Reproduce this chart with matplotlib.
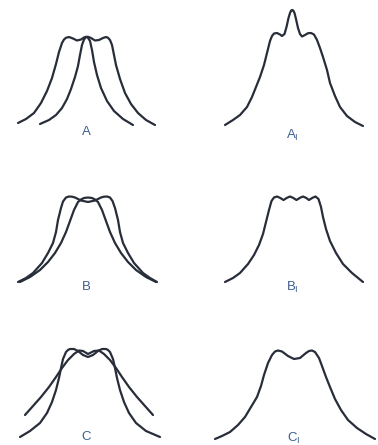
#!/usr/bin/env python3
import matplotlib
matplotlib.use("Agg")
import matplotlib.pyplot as plt

# Traced curves, in picture pixels (x right, y down)
a_left_x = [18, 26, 34, 41, 47, 52, 56, 59, 62, 64, 66, 69, 73, 77, 81, 84, 86, 88, 90, 92, 94, 97, 101, 107, 114, 123, 133]
a_left_y = [123, 119, 113, 103, 91, 78, 64, 52, 43, 39.5, 37.8, 37, 38.5, 40.5, 39.5, 37.5, 36.8, 37.8, 41, 50, 62, 75, 88, 101, 111, 119, 125]
a_right_x = [40, 49, 56, 62, 67, 71, 75, 78, 80, 82, 84, 86, 88, 91, 95, 99, 103, 106, 108, 110, 112, 114, 116, 120, 125, 131, 138, 146, 155]
a_right_y = [124, 120, 115, 108, 99, 89, 77, 66, 55, 45, 39.5, 37, 36.8, 38, 40.5, 40, 38, 37, 37.8, 40, 45, 55, 65, 79, 93, 104, 113, 120, 125]

a1_x = [225, 233, 240, 247, 252, 256, 260, 264, 267, 270, 272, 274, 277, 280, 282, 284.5, 286.5, 288.5, 290, 291.2, 292.2, 293.2, 294.5, 296, 298, 300, 302, 305, 308, 311, 314, 317, 320, 323, 327, 330, 335, 340, 347, 355, 363]
a1_y = [125, 120, 115, 107, 97, 87, 77, 65, 53, 41, 36, 33.5, 33, 34.5, 36, 34, 27, 18, 13, 10.5, 10, 10.5, 13, 19, 28, 34, 36.5, 35, 33.2, 33, 34.5, 40, 48, 57, 70, 83, 96, 107, 116, 122, 126]

b_two_x = [18, 26, 33, 42, 48, 53, 56, 58, 61, 63, 66, 69, 72, 75, 81, 88, 95, 101, 104, 107, 110, 112.5, 115, 118, 120, 123, 128, 134, 143, 150, 157]
b_two_y = [282, 278, 273, 263, 253, 243, 232, 220, 208, 201.5, 197.5, 196.5, 196.7, 197.5, 200.5, 202, 200.5, 197.5, 196.7, 196.5, 197.5, 201, 208, 220, 232, 243, 253, 263, 273, 278, 282]
b_one_x = [20, 30, 40, 48, 55, 61, 66, 70, 74, 78, 81, 84, 88, 92, 95, 98, 102, 106, 110, 115, 121, 128, 136, 146, 156]
b_one_y = [282, 277, 270, 262, 253, 243, 232, 221, 210, 202, 199.5, 198, 197.5, 198, 199.5, 202, 210, 221, 232, 243, 253, 262, 270, 277, 282]

b1_x = [225, 233, 240, 248, 254, 259, 263, 266, 269, 271.5, 274, 277, 280, 283.5, 287, 290, 293, 296.5, 300, 303, 306, 309, 312.5, 315.5, 318.5, 321, 323, 326, 330, 336, 343, 352, 363]
b1_y = [282, 278, 273, 264, 255, 245, 234, 222, 210, 201, 197.5, 196.5, 197.8, 200, 197.8, 196.5, 197.8, 200, 197.8, 196.5, 197.8, 200, 197.8, 196.5, 199, 207, 217, 229, 241, 253, 264, 273, 282]

c_steep_x = [20, 30, 40, 47, 52, 56, 59, 61, 63, 66, 68, 70, 74, 78, 83, 88, 93, 98, 102, 106, 108, 110, 113, 115, 117, 120, 124, 129, 136, 146, 160]
c_steep_y = [437, 431, 423, 413, 402, 390, 378, 368, 359, 352, 350, 349, 349, 351, 355, 357, 355, 351, 349, 349, 350, 352, 359, 368, 378, 390, 402, 413, 423, 431, 437]
c_wide_x = [25, 33, 41, 49, 56, 62, 68, 74, 79, 83, 88, 94, 99, 104, 110, 116, 122, 129, 137, 145, 153]
c_wide_y = [415, 406, 397, 387, 377, 368, 360, 354, 350.5, 351, 354, 351, 350.5, 354, 360, 368, 377, 387, 397, 406, 415]

c1_x = [215, 222, 230, 238, 245, 251, 257, 261, 264, 268, 272, 275, 278, 282, 288, 294, 300, 306, 309, 312, 315, 319, 322, 326, 330, 335, 341, 348, 357, 366, 375]
c1_y = [439, 436, 432, 425, 417, 407, 397, 386, 375, 363, 355, 351.5, 350.5, 351.5, 356, 359, 358, 353, 351, 350.5, 352, 358, 366, 377, 387, 399, 410, 420, 428, 434, 439]

labels = ["A", "B", "C"]
label_x = [86, 86, 86]
label_y = [132, 287, 437]
sub_labels = ["A", "B", "C"]
sub_x = [292, 292, 294]
sub_y = [135, 287, 438]


def main():
    fig = plt.figure(figsize=(3.78, 4.45), dpi=100)
    ax = fig.add_axes([0, 0, 1, 1])
    ax.set_xlim(0, 378)
    ax.set_ylim(445, 0)
    ax.axis("off")

    ink = "#282d3a"
    curves = [
        (a_left_x, a_left_y), (a_right_x, a_right_y), (a1_x, a1_y),
        (b_two_x, b_two_y), (b_one_x, b_one_y), (b1_x, b1_y),
        (c_steep_x, c_steep_y), (c_wide_x, c_wide_y), (c1_x, c1_y),
    ]
    for xs, ys in curves:
        ax.plot(xs, ys, color=ink, lw=1.6, solid_joinstyle="round", solid_capstyle="round")

    label_color = "#3f5f8f"
    for t, x, y in zip(labels, label_x, label_y):
        ax.text(x, y, t, ha="center", va="center", fontsize=9.5, color=label_color,
                family="Liberation Sans")
    for t, x, y in zip(sub_labels, sub_x, sub_y):
        ax.text(x, y, t + r"$_\mathregular{I}$", ha="center", va="center", fontsize=9.5,
                color=label_color, family="Liberation Sans")

    fig.savefig("out.png", dpi=100, facecolor="white")


if __name__ == "__main__":
    main()
